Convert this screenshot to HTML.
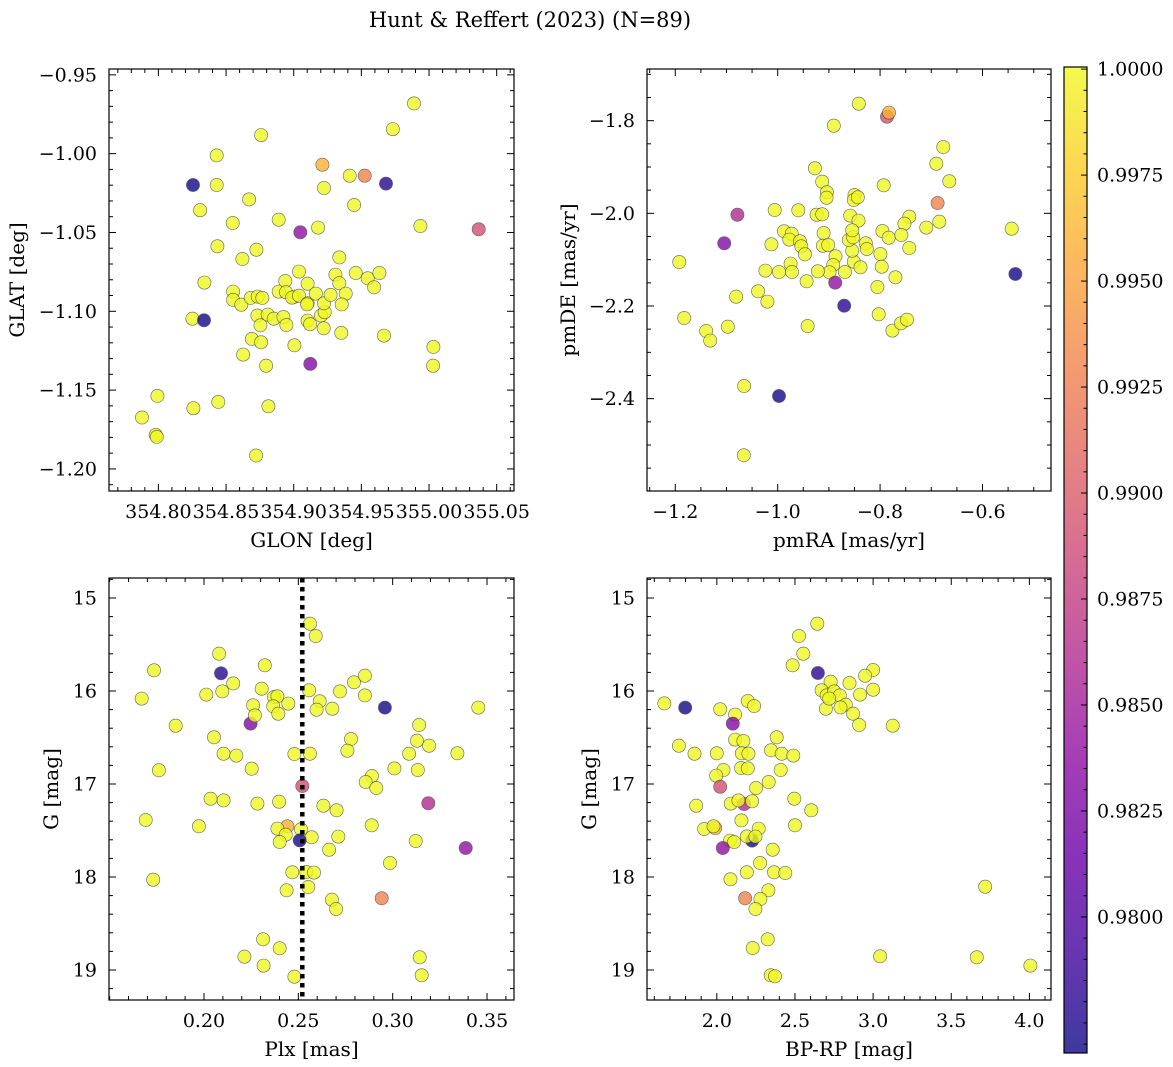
<!DOCTYPE html>
<html><head><meta charset="utf-8"><style>
html,body{margin:0;padding:0;background:#fff}
svg{display:block;font-family:"DejaVu Serif","Liberation Serif",serif}
</style></head><body>
<svg id="fig" width="1173" height="1067" viewBox="0 0 1173 1067" xmlns="http://www.w3.org/2000/svg">
<text x="530" y="27" font-size="21" text-anchor="middle">Hunt &amp; Reffert (2023) (N=89)</text>
</svg>
<script>
const glonGlat = [
[354.8256,-1.0199,0.977],[354.8431,-1.0011,1],[354.8431,-1.0199,1],[354.8308,-1.0359,1],[354.867,-1.029,1],[354.8759,-0.9882,1],[354.8549,-1.044,1],[354.8436,-1.0588,1],[354.8621,-1.0668,1],[354.8724,-1.0609,1],[354.8889,-1.0419,1],[354.9049,-1.0499,0.984],[354.918,-1.0469,1],[354.9212,-1.007,0.996],[354.9224,-1.0218,1],[354.9414,-1.014,1],[354.9525,-1.014,0.993],[354.9682,-1.019,0.978],[354.9446,-1.0326,1],[354.9732,-0.9844,1],[354.9889,-0.9681,1],[354.9936,-1.0459,1],[355.0367,-1.048,0.989],[354.9337,-1.0658,1],[354.9039,-1.0748,1],[354.834,-1.0818,1],[354.8251,-1.1047,1],[354.8337,-1.1057,0.977],[354.8552,-1.0875,1],[354.8552,-1.0928,1],[354.8613,-1.0958,1],[354.8682,-1.0915,1],[354.8734,-1.0907,1],[354.8768,-1.0915,1],[354.8732,-1.1027,1],[354.8808,-1.1021,1],[354.8852,-1.1047,1],[354.8754,-1.1089,1],[354.8924,-1.1036,1],[354.8946,-1.1087,1],[354.8889,-1.0875,1],[354.8938,-1.0808,1],[354.8943,-1.0879,1],[354.9005,-1.0907,1],[354.8988,-1.0913,1],[354.9039,-1.0901,1],[354.9103,-1.0825,1],[354.9103,-1.0949,1],[354.9163,-1.0888,1],[354.9099,-1.0956,1],[354.9103,-1.1059,1],[354.9121,-1.1082,1],[354.9202,-1.1027,1],[354.9229,-1.1006,1],[354.9224,-1.0949,1],[354.9273,-1.0896,1],[354.9308,-1.0767,1],[354.9337,-1.0822,1],[354.9384,-1.0888,1],[354.9355,-1.0956,1],[354.9222,-1.1108,1],[354.9352,-1.1137,1],[354.9458,-1.0757,1],[354.9547,-1.0791,1],[354.9594,-1.0848,1],[354.9633,-1.0757,1],[354.9667,-1.1154,1],[355.0032,-1.1226,1],[355.003,-1.1345,1],[354.9005,-1.1216,1],[354.869,-1.1175,1],[354.8759,-1.1197,1],[354.8626,-1.1275,1],[354.8796,-1.1345,1],[354.9123,-1.1334,0.983],[354.7993,-1.1537,1],[354.8259,-1.1615,1],[354.8443,-1.1575,1],[354.8813,-1.1603,1],[354.7879,-1.1674,1],[354.798,-1.1784,1],[354.7988,-1.1797,1],[354.8722,-1.1915,1]];
const pmraPmde = [
[-0.8416,-1.7633,1],[-0.8903,-1.8108,1],[-0.7864,-1.7914,0.989],[-0.7825,-1.7827,0.996],[-0.6766,-1.8568,1],[-0.6903,-1.8928,1],[-0.6649,-1.9309,1],[-0.7929,-1.9396,1],[-0.9273,-1.9029,1],[-0.913,-1.9317,1],[-0.9039,-1.9547,1],[-0.9045,-1.9662,1],[-0.85,-1.9604,1],[-0.8513,-1.9712,1],[-0.8435,-1.9655,1],[-0.6877,-1.9777,0.993],[-0.5429,-2.0331,1],[-0.5357,-2.1309,0.977],[-1.0786,-2.0029,0.986],[-1.1045,-2.0647,0.983],[-1.1922,-2.105,1],[-1.0058,-1.9928,1],[-0.9597,-1.9935,1],[-0.924,-2.0029,1],[-0.913,-2.0022,1],[-0.8584,-2.005,1],[-0.8422,-2.0158,1],[-0.7429,-2.0072,1],[-0.7526,-2.0223,1],[-0.7955,-2.0381,1],[-0.7831,-2.0525,1],[-0.7584,-2.0468,1],[-0.7097,-2.0309,1],[-0.6844,-2.018,1],[-0.7429,-2.0748,1],[-0.9877,-2.0388,1],[-0.9727,-2.0439,1],[-0.9773,-2.0568,1],[-0.9565,-2.0604,1],[-0.9539,-2.0712,1],[-0.9468,-2.0885,1],[-1.0123,-2.0669,1],[-0.9104,-2.0424,1],[-0.9117,-2.0698,1],[-0.9013,-2.0683,1],[-0.887,-2.0928,1],[-0.8916,-2.1115,1],[-0.8987,-2.1273,1],[-0.8877,-2.1496,0.984],[-0.9214,-2.1252,1],[-0.8688,-2.1266,1],[-0.8513,-2.1043,1],[-0.8383,-2.1165,1],[-0.8545,-2.0806,1],[-0.861,-2.0576,1],[-0.8526,-2.0518,1],[-0.8545,-2.0367,1],[-0.8279,-2.0647,1],[-0.826,-2.077,1],[-0.7994,-2.0878,1],[-0.7968,-2.1151,1],[-0.7701,-2.1381,1],[-0.8052,-2.159,1],[-0.9747,-2.1086,1],[-0.9721,-2.1266,1],[-0.9974,-2.1266,1],[-1.024,-2.1237,1],[-0.9435,-2.1468,1],[-1.0383,-2.1683,1],[-1.0201,-2.1906,1],[-1.0812,-2.1799,1],[-0.8701,-2.1993,0.978],[-0.8026,-2.218,1],[-0.776,-2.2532,1],[-0.7591,-2.2374,1],[-0.7474,-2.2295,1],[-0.9416,-2.2432,1],[-1.1825,-2.2259,1],[-1.0974,-2.2446,1],[-1.1396,-2.254,1],[-1.1318,-2.2748,1],[-1.0656,-2.3727,1],[-0.9974,-2.3942,0.977],[-1.0662,-2.5223,1]];
const plxG = [
[0.1735,15.778,1],[0.208,15.599,1],[0.209,15.81,0.978],[0.2155,15.918,1],[0.2097,16.004,1],[0.2012,16.039,1],[0.167,16.082,1],[0.185,16.373,1],[0.2247,16.351,0.983],[0.226,16.154,1],[0.227,16.262,1],[0.2306,15.975,1],[0.2322,15.724,1],[0.2371,16.065,1],[0.2389,16.057,1],[0.2367,16.165,1],[0.2394,16.244,1],[0.2447,16.136,1],[0.2562,15.276,1],[0.2592,15.409,1],[0.2557,15.993,1],[0.2613,16.111,1],[0.2597,16.201,1],[0.268,16.19,1],[0.2721,16.004,1],[0.2795,15.907,1],[0.2853,15.835,1],[0.2853,16.047,1],[0.2959,16.179,0.977],[0.3454,16.179,1],[0.314,16.366,1],[0.3129,16.534,1],[0.3193,16.588,1],[0.3087,16.674,1],[0.3343,16.67,1],[0.2779,16.516,1],[0.276,16.642,1],[0.2479,16.677,1],[0.2562,16.674,1],[0.2053,16.498,1],[0.2104,16.674,1],[0.2171,16.695,1],[0.2253,16.835,1],[0.1761,16.853,1],[0.3009,16.832,1],[0.3133,16.849,1],[0.289,16.914,1],[0.2857,16.978,1],[0.2913,17.043,1],[0.2521,17.022,0.989],[0.3189,17.208,0.986],[0.2035,17.158,1],[0.2104,17.176,1],[0.2283,17.211,1],[0.2398,17.19,1],[0.2633,17.233,1],[0.2703,17.283,1],[0.1691,17.387,1],[0.1973,17.455,1],[0.2442,17.455,0.996],[0.2389,17.48,1],[0.2433,17.545,1],[0.2514,17.487,1],[0.2401,17.624,1],[0.2571,17.573,1],[0.2507,17.606,0.977],[0.2712,17.566,1],[0.2889,17.444,1],[0.2663,17.706,1],[0.3122,17.613,1],[0.3387,17.688,0.984],[0.2986,17.849,1],[0.2468,17.95,1],[0.2542,17.946,1],[0.2583,17.953,1],[0.1731,18.029,1],[0.2438,18.143,1],[0.2553,18.108,1],[0.2678,18.244,1],[0.27,18.344,1],[0.2942,18.229,0.993],[0.2313,18.67,1],[0.2401,18.767,1],[0.2214,18.857,1],[0.2316,18.953,1],[0.2479,19.072,1],[0.3143,18.864,1],[0.3154,19.057,1]];
const bprpG = [
[1.6638,16.133,1],[1.7979,16.179,0.977],[2.0213,16.197,1],[2.117,16.254,1],[2.1021,16.351,0.983],[2.1979,16.108,1],[2.2383,16.161,1],[1.7574,16.588,1],[1.8574,16.674,1],[2.0,16.67,1],[2.117,16.523,1],[2.1702,16.538,1],[2.1596,16.67,1],[2.2021,16.674,1],[2.1553,16.828,1],[2.1979,16.832,1],[2.0426,16.849,1],[1.9957,16.91,1],[2.0213,17.029,0.989],[2.383,16.498,1],[2.3468,16.638,1],[2.4149,16.674,1],[2.4894,16.695,1],[2.4085,16.849,1],[2.3319,16.978,1],[2.2511,17.043,1],[1.8681,17.233,1],[2.0894,17.211,1],[2.1745,17.215,0.986],[2.1383,17.176,1],[2.2255,17.186,1],[2.4957,17.158,1],[2.6043,17.283,1],[2.1574,17.391,1],[1.9191,17.484,1],[1.9894,17.473,0.996],[1.9787,17.455,1],[2.5,17.444,1],[2.2255,17.609,0.977],[2.0851,17.609,1],[2.1106,17.624,1],[2.1915,17.563,1],[2.2681,17.48,1],[2.2468,17.566,1],[2.0383,17.688,0.984],[2.3574,17.706,1],[2.2766,17.849,1],[2.1915,17.95,1],[2.366,17.95,1],[2.4383,17.957,1],[2.0872,18.025,1],[2.3298,18.143,1],[2.1809,18.229,0.993],[2.2787,18.237,1],[2.2468,18.344,1],[2.3255,18.67,1],[2.2298,18.763,1],[2.3447,19.057,1],[2.3723,19.068,1],[3.0447,18.853,1],[3.6638,18.864,1],[4.0064,18.953,1],[3.717,18.104,1],[2.6426,15.276,1],[2.5255,15.409,1],[2.5532,15.599,1],[2.4851,15.724,1],[2.6468,15.806,0.978],[3.0,15.774,1],[2.9489,15.835,1],[2.8489,15.914,1],[2.7277,15.9,1],[2.6702,15.993,1],[2.7021,16.047,1],[2.7511,16.004,1],[2.7872,16.047,1],[2.8255,16.147,1],[2.6979,16.19,1],[2.7915,16.176,1],[2.8723,16.244,1],[2.9106,16.366,1],[2.917,16.039,1],[3.0,15.986,1],[3.1255,16.373,1],[2.7191,16.082,1]];
const plxLine = 0.2521;
const glonTicks = [354.80,354.85,354.90,354.95,355.00,355.05];
const glatTicks = [-0.95,-1.00,-1.05,-1.10,-1.15,-1.20];
const pmraTicks = [-1.2,-1.0,-0.8,-0.6];
const pmdeTicks = [-1.8,-2.0,-2.2,-2.4];
const plxTicks = [0.20,0.25,0.30,0.35];
const bprpTicks = [2.0,2.5,3.0,3.5,4.0];
const gTicks = [15,16,17,18,19];
const cbTicks = [1.0,0.9975,0.995,0.9925,0.99,0.9875,0.985,0.9825,0.98];
const cbMin = 0.97679, cbMax = 1.00005;

const NS = "http://www.w3.org/2000/svg";
const svg = document.getElementById('fig');
function mk(tag, attrs, parent){const e=document.createElementNS(NS,tag);for(const k in attrs)e.setAttribute(k,attrs[k]);(parent||svg).appendChild(e);return e;}
const stops=[[13,8,135],[65,4,157],[106,0,168],[143,13,164],[177,42,144],[204,71,120],[225,100,98],[242,132,75],[252,166,54],[252,206,37],[240,249,33]];
function plasma(t){t=Math.max(0,Math.min(1,t));const f=t*10,i=Math.min(9,Math.floor(f)),r=f-i;const a=stops[i],b=stops[i+1];return `rgb(${Math.round(a[0]+(b[0]-a[0])*r)},${Math.round(a[1]+(b[1]-a[1])*r)},${Math.round(a[2]+(b[2]-a[2])*r)})`;}
function lin(d0,d1,r0,r1){return v=>r0+(v-d0)/(d1-d0)*(r1-r0);}
function fmt(v,dec){const s=Math.abs(v).toFixed(dec);return (v<0?'\u2212':'')+s;}

function panel(o){
  const g=mk('g',{});
  
  
  const X=lin(o.xd[0],o.xd[1],o.L,o.R), Y=lin(o.yd[0],o.yd[1],o.T,o.B);
  const pg=mk('g',{},g);
  
  
  o.data.forEach(d=>{
    const c=mk('circle',{cx:X(d[0]).toFixed(1),cy:Y(d[1]).toFixed(1),r:6.6,fill:plasma((d[2]-cbMin)/(cbMax-cbMin)),stroke:'#3a3a3a','stroke-width':0.6,opacity:0.8},pg);
    
    
  });
  if(o.vline!==undefined){
    const l=mk('line',{x1:X(o.vline),x2:X(o.vline),y1:o.T,y2:o.B,stroke:'#000','stroke-width':4.5,'stroke-dasharray':'4.5 4.5'},g);
    
    
  }
  const tg=mk('g',{stroke:'#000','stroke-width':1},g);
  const xmin=Math.min(...o.xd),xmax=Math.max(...o.xd),ymin=Math.min(...o.yd),ymax=Math.max(...o.yd);
  for(let v=Math.ceil(xmin/o.xminor-1e-6)*o.xminor;v<=xmax+1e-9;v+=o.xminor){
    const x=X(v), maj=o.xt.some(t=>Math.abs(t-v)<o.xminor/3), len=maj?7:4;
    mk('line',{x1:x,x2:x,y1:o.B,y2:o.B-len},tg);mk('line',{x1:x,x2:x,y1:o.T,y2:o.T+len},tg);
  }
  for(let v=Math.ceil(ymin/o.yminor-1e-6)*o.yminor;v<=ymax+1e-9;v+=o.yminor){
    const y=Y(v), maj=o.yt.some(t=>Math.abs(t-v)<o.yminor/3), len=maj?7:4;
    mk('line',{x1:o.L,x2:o.L+len,y1:y,y2:y},tg);mk('line',{x1:o.R,x2:o.R-len,y1:y,y2:y},tg);
  }
  mk('rect',{x:o.L,y:o.T,width:o.R-o.L,height:o.B-o.T,fill:'none',stroke:'#000','stroke-width':1.2},g);
  o.xt.forEach(v=>{const t=mk('text',{x:X(v),y:o.B+27,'font-size':19,'text-anchor':'middle'},g);t.textContent=fmt(v,o.xdec);
    });
  o.yt.forEach(v=>{const t=mk('text',{x:o.L-12,y:Y(v)+6.5,'font-size':19,'text-anchor':'end'},g);t.textContent=fmt(v,o.ydec);
    });
  const xl=mk('text',{x:(o.L+o.R)/2,y:o.B+56,'font-size':20,'text-anchor':'middle'},g);xl.textContent=o.xlab;
  
  const yc=(o.T+o.B)/2;
  const yl=mk('text',{x:o.ylx,y:yc,'font-size':20,'text-anchor':'middle',transform:`rotate(-90 ${o.ylx} ${yc})`},g);yl.textContent=o.ylab;
  
}
panel({name:'glon-glat-panel',data:glonGlat,L:109,R:514,T:69,B:491,xd:[354.7635,355.0628],yd:[-0.9463,-1.2140],xt:glonTicks,yt:glatTicks,xminor:0.01,yminor:0.01,xdec:2,ydec:2,xlab:'GLON [deg]',ylab:'GLAT [deg]',ylx:24});
panel({name:'pm-panel',data:pmraPmde,L:647,R:1051,T:69,B:491,xd:[-1.2552,-0.4662],yd:[-1.6885,-2.5993],xt:pmraTicks,yt:pmdeTicks,xminor:0.05,yminor:0.05,xdec:1,ydec:1,xlab:'pmRA [mas/yr]',ylab:'pmDE [mas/yr]',ylx:575});
panel({name:'plx-g-panel',data:plxG,L:109,R:514,T:578,B:1000,xd:[0.14965,0.3643],yd:[14.785,19.3226],xt:plxTicks,yt:gTicks,xminor:0.01,yminor:0.2,xdec:2,ydec:0,xlab:'Plx [mas]',ylab:'G [mag]',ylx:58,vline:plxLine});
panel({name:'cmd-panel',data:bprpG,L:647,R:1051,T:578,B:1000,xd:[1.5532,4.1383],yd:[14.785,19.3226],xt:bprpTicks,yt:gTicks,xminor:0.1,yminor:0.2,xdec:1,ydec:0,xlab:'BP-RP [mag]',ylab:'G [mag]',ylx:596});

const cb=mk('g',{});


const cL=1064,cR=1087,cT=67,cB=1053;
const CY=lin(cbMin,cbMax,cB,cT);
const defs=mk('defs',{});
const lg=mk('linearGradient',{id:'cbgrad',x1:0,y1:1,x2:0,y2:0},defs);
for(let i=0;i<=40;i++){mk('stop',{offset:(i/40).toFixed(3),'stop-color':plasma(i/40)},lg);}
const cbr=mk('rect',{x:cL,y:cT,width:cR-cL,height:cB-cT,fill:'url(#cbgrad)',opacity:0.8},cb);


for(let v=0.977;v<=1.00001;v+=0.0005){const y=CY(v);const maj=cbTicks.some(t=>Math.abs(t-v)<0.0001);mk('line',{x1:cR,x2:cR-(maj?6:3.5),y1:y,y2:y,stroke:'#000','stroke-width':1},cb);}
mk('rect',{x:cL,y:cT,width:cR-cL,height:cB-cT,fill:'none',stroke:'#000','stroke-width':1.2},cb);
cbTicks.forEach(v=>{const t=mk('text',{x:1097,y:CY(v)+6.5,'font-size':19},cb);t.textContent=v.toFixed(4);
  });
</script>
</body></html>
